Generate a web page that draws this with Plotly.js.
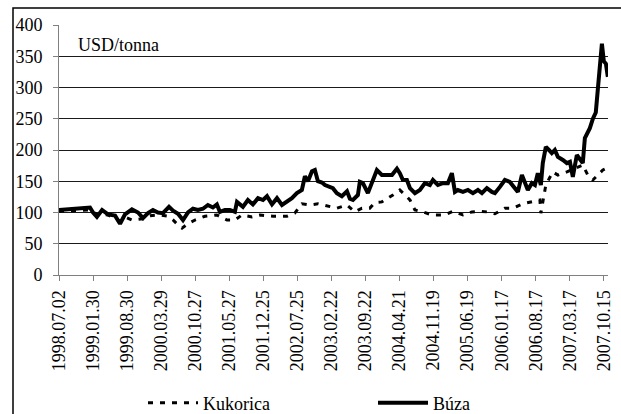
<!DOCTYPE html>
<html>
<head>
<meta charset="utf-8">
<script src="https://cdn.plot.ly/plotly-3.0.1.min.js"></script>
<style>html,body{margin:0;padding:0;background:#fff;overflow:hidden;}</style>
</head>
<body>
<div id="chart" style="width:621px;height:414px;"></div>
<script>
// Tick labels (category dates on the original axis)
const tickDates = ['1998-07-02','1999-01-30','1999-08-30','2000-03-29','2000-10-27','2001-05-27','2001-12-25','2002-07-25','2003-02-22','2003-09-22','2004-04-21','2004-11-19','2005-06-19','2006-01-17','2006-08-17','2007-03-17','2007-10-15'];
const tickLabels = ['1998.07.02','1999.01.30','1999.08.30','2000.03.29','2000.10.27','2001.05.27','2001.12.25','2002.07.25','2003.02.22','2003.09.22','2004.04.21','2004.11.19','2005.06.19','2006.01.17','2006.08.17','2007.03.17','2007.10.15'];

// Búza (wheat), USD/tonna
const buzaDates = ['1998-07-02','1998-10-10','1999-01-11','1999-01-30','1999-02-23','1999-03-27','1999-05-03','1999-06-16','1999-07-17','1999-08-17','1999-09-29','1999-11-06','1999-12-07','2000-01-07','2000-02-07','2000-03-09','2000-04-09','2000-05-17','2000-06-11','2000-07-12','2000-08-12','2000-09-12','2000-10-13','2000-11-13','2000-12-14','2001-01-14','2001-02-14','2001-03-11','2001-03-30','2001-04-30','2001-05-31','2001-07-01','2001-07-14','2001-08-20','2001-09-20','2001-10-21','2001-11-22','2001-12-23','2002-01-17','2002-02-17','2002-03-20','2002-04-20','2002-05-21','2002-06-21','2002-07-22','2002-08-22','2002-09-10','2002-09-29','2002-10-24','2002-11-11','2002-11-30','2002-12-25','2003-01-13','2003-02-13','2003-03-03','2003-03-28','2003-04-28','2003-05-30','2003-06-17','2003-07-06','2003-08-06','2003-08-18','2003-09-06','2003-10-07','2003-11-01','2003-12-02','2004-01-02','2004-02-02','2004-03-05','2004-04-05','2004-04-23','2004-05-12','2004-06-06','2004-06-25','2004-07-26','2004-08-26','2004-09-26','2004-10-27','2004-11-15','2004-12-16','2005-01-16','2005-02-16','2005-03-13','2005-04-01','2005-04-19','2005-05-21','2005-06-21','2005-07-22','2005-08-22','2005-09-16','2005-10-17','2005-11-17','2005-12-06','2006-01-06','2006-02-06','2006-03-09','2006-04-09','2006-04-28','2006-05-23','2006-06-10','2006-06-29','2006-07-24','2006-08-12','2006-08-30','2006-09-18','2006-09-30','2006-10-19','2006-11-07','2006-11-25','2006-12-14','2007-01-02','2007-02-02','2007-02-27','2007-03-18','2007-04-05','2007-04-30','2007-05-19','2007-06-06','2007-06-19','2007-07-20','2007-08-08','2007-08-26','2007-09-08','2007-09-20','2007-10-03','2007-10-15','2007-10-28','2007-11-09'];
const buzaValues = [104,106,108,100,93,104,97,95,82,97,105,100,91,99,104,100,99,109,103,98,88,100,106,104,106,112,108,113,101,104,104,101,117,109,120,113,123,120,126,113,123,112,117,123,131,136,158,150,166,168,150,148,144,141,139,131,126,134,122,120,128,149,147,131,149,168,160,160,160,170,163,152,152,139,131,136,147,144,152,144,147,147,163,133,136,133,136,131,136,131,139,133,131,141,152,149,139,133,160,147,136,147,144,163,144,179,205,200,195,200,189,184,179,181,157,192,186,179,219,235,250,260,298,333,370,342,338,317];

// Kukorica (maize), USD/tonna
const kukDates = ['1998-07-02','1998-10-10','1999-01-11','1999-02-23','1999-05-03','1999-07-17','1999-08-23','1999-09-29','1999-12-07','2000-01-20','2000-03-21','2000-05-10','2000-06-11','2000-07-12','2000-08-06','2000-09-12','2000-10-26','2000-12-27','2001-03-11','2001-05-13','2001-07-01','2001-08-14','2001-10-15','2001-12-04','2002-02-23','2002-05-21','2002-07-09','2002-08-22','2002-10-11','2002-11-30','2003-01-26','2003-03-28','2003-05-30','2003-07-18','2003-08-31','2003-10-19','2003-11-20','2004-01-02','2004-03-11','2004-04-23','2004-05-25','2004-06-25','2004-07-26','2004-09-14','2004-11-09','2005-01-29','2005-03-19','2005-05-21','2005-07-16','2005-09-03','2005-10-17','2005-12-06','2006-02-06','2006-03-28','2006-05-29','2006-07-31','2006-09-12','2006-09-18','2006-10-19','2006-12-01','2007-01-02','2007-02-27','2007-04-30','2007-06-06','2007-07-07','2007-08-08','2007-09-08','2007-10-09','2007-11-03'];
const kukValues = [102,103,104,97,96,86,92,88,90,95,96,94,88,80,75,82,88,94,96,88,88,96,93,96,94,94,99,114,112,114,111,107,112,101,107,107,116,117,128,136,128,120,104,101,96,96,102,96,101,102,101,98,107,107,114,117,120,99,144,165,160,165,172,176,160,152,160,168,171];

const FONT = '"Times New Roman", "Liberation Serif", Times, "DejaVu Serif", serif';
const L = 59, R = 13, T = 25, B = 139, W = 621, H = 414;
const pw = W - L - R, ph = H - T - B;
const px = x => (x - L) / pw;
const py = y => (H - B - y) / ph;

const traces = [
  {x: kukDates, y: kukValues, name: 'Kukorica', type: 'scatter', mode: 'lines',
   line: {color: '#000', width: 3, dash: '5px,7px'}, legend: 'legend'},
  {x: buzaDates, y: buzaValues, name: 'Búza', type: 'scatter', mode: 'lines',
   line: {color: '#000', width: 4}, legend: 'legend2'}
];

const legendBase = {xref: 'container', yref: 'container', xanchor: 'left', yanchor: 'middle',
  orientation: 'h', bgcolor: 'rgba(0,0,0,0)', font: {family: FONT, size: 18, color: '#000'},
  itemwidth: 50, y: 1 - 403 / H};

const layout = {
  width: W, height: H,
  margin: {l: L, r: R, t: T, b: B, pad: 0, autoexpand: false},
  paper_bgcolor: '#fff', plot_bgcolor: '#fff',
  font: {family: FONT, size: 18, color: '#000'},
  showlegend: true,
  xaxis: {
    type: 'date', range: ['1998-07-02', '2007-11-10'], automargin: false,
    tickmode: 'array', tickvals: tickDates, ticktext: tickLabels, tickangle: -90,
    showgrid: false, zeroline: false, showline: true, linecolor: '#808080', linewidth: 1,
    ticks: 'outside', ticklen: 5, tickcolor: '#808080', ticklabelstandoff: 2,
    tickfont: {family: FONT, size: 18, color: '#000'}, fixedrange: true
  },
  yaxis: {
    range: [0, 400], tick0: 0, dtick: 50, automargin: false,
    showgrid: true, gridcolor: '#1a1a1a', gridwidth: 1, zeroline: false,
    showline: true, linecolor: '#808080', linewidth: 1,
    ticks: 'outside', ticklen: 5, tickcolor: '#808080', ticklabelstandoff: 7,
    tickfont: {family: FONT, size: 18, color: '#000'}, fixedrange: true
  },
  legend: Object.assign({}, legendBase, {x: 143 / W}),
  legend2: Object.assign({}, legendBase, {x: 373 / W}),
  annotations: [{
    text: 'USD/tonna', xref: 'paper', yref: 'paper', x: px(76), y: py(45),
    xanchor: 'left', yanchor: 'middle', showarrow: false,
    font: {family: FONT, size: 18, color: '#000'}
  }],
  shapes: [{
    type: 'rect', xref: 'paper', yref: 'paper',
    x0: px(13), x1: px(640), y0: py(440), y1: py(8),
    line: {color: '#000', width: 1.5}, fillcolor: 'rgba(0,0,0,0)', layer: 'above'
  }]
};

Plotly.newPlot('chart', traces, layout, {staticPlot: true, displayModeBar: false});
</script>
</body>
</html>
